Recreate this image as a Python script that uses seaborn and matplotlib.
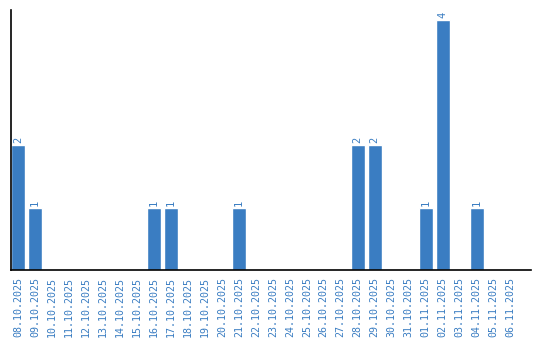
import matplotlib
matplotlib.use("Agg")
import matplotlib.pyplot as plt
import seaborn as sns
import pandas as pd

dates = ["08.10.2025", "09.10.2025", "10.10.2025", "11.10.2025", "12.10.2025",
         "13.10.2025", "14.10.2025", "15.10.2025", "16.10.2025", "17.10.2025",
         "18.10.2025", "19.10.2025", "20.10.2025", "21.10.2025", "22.10.2025",
         "23.10.2025", "24.10.2025", "25.10.2025", "26.10.2025", "27.10.2025",
         "28.10.2025", "29.10.2025", "30.10.2025", "31.10.2025", "01.11.2025",
         "02.11.2025", "03.11.2025", "04.11.2025", "05.11.2025", "06.11.2025"]
counts = [2, 1, 0, 0, 0, 0, 0, 0, 1, 1,
          0, 0, 0, 1, 0, 0, 0, 0, 0, 0,
          2, 2, 0, 0, 1, 4, 0, 1, 0, 0]

df = pd.DataFrame({"date": dates, "count": counts})
blue = "#3a7dc2"

sns.set_style("white")
fig = plt.figure(figsize=(5.4, 3.4), dpi=100)
ax = fig.add_axes([11 / 540, 70 / 340, 520 / 540, 260 / 340])
sns.barplot(data=df, x="date", y="count", color=blue, saturation=1,
            width=0.82, ax=ax)

ax.set_xlim(-0.41, 30.2)
ax.set_ylim(0, 4.16)
ax.set_xlabel("")
ax.set_ylabel("")
ax.set_yticks([])
ax.tick_params(axis="x", length=0, pad=5, labelrotation=90, labelcolor=blue)
for lab in ax.get_xticklabels():
    lab.set_fontfamily("DejaVu Sans Mono")
    lab.set_fontsize(7.2)
for s in ["top", "right"]:
    ax.spines[s].set_visible(False)
for s in ["left", "bottom"]:
    ax.spines[s].set_color("black")
    ax.spines[s].set_linewidth(1.2)

for i, v in enumerate(counts):
    if v > 0:
        ax.text(i, v + 0.03, str(v), rotation=90, ha="center", va="bottom",
                color=blue, fontsize=7.5, family="DejaVu Sans Mono")

fig.savefig("out.png", dpi=100)
